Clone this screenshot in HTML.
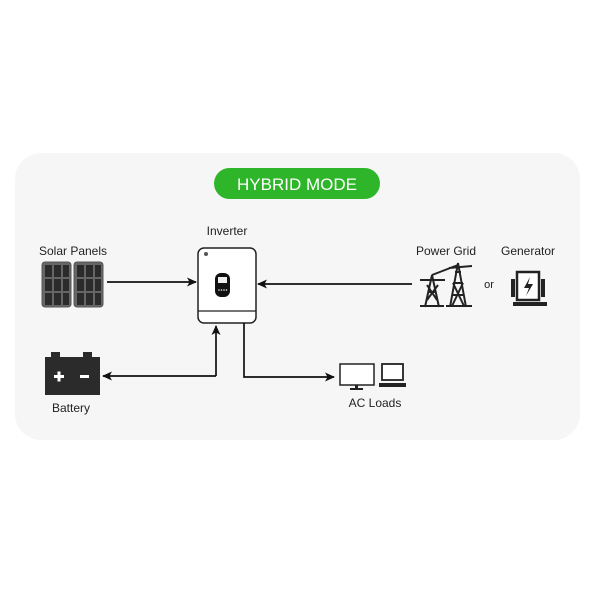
<!DOCTYPE html>
<html><head><style>
body{margin:0;width:600px;height:600px;background:#fff;overflow:hidden;font-family:"Liberation Sans",sans-serif}
</style></head><body>
<svg width="600" height="600" viewBox="0 0 600 600" xmlns="http://www.w3.org/2000/svg" font-family="Liberation Sans, sans-serif">
<defs><marker id="a" markerWidth="10" markerHeight="9" refX="9" refY="4.5" orient="auto" markerUnits="userSpaceOnUse"><path d="M0,0 L10,4.5 L0,9 L2.5,4.5 z" fill="#111"/></marker></defs>
<rect x="15" y="153" width="565" height="287" rx="26" fill="#f6f6f7"/>
<rect x="214" y="168" width="166" height="31" rx="15.5" fill="#2fb52a"/>
<text x="297" y="190" font-size="17" fill="#fff" text-anchor="middle">HYBRID MODE</text>
<g font-size="12" fill="#222" text-anchor="middle">
<text x="73" y="255">Solar Panels</text>
<text x="227" y="235">Inverter</text>
<text x="71" y="412">Battery</text>
<text x="375" y="407">AC Loads</text>
<text x="446" y="255">Power Grid</text>
<text x="528" y="255">Generator</text>
<text x="489" y="288" font-size="11">or</text>
</g>
<g stroke="#555" stroke-width="1">
<rect x="42" y="262" width="29" height="45" rx="3" fill="#666"/>
<rect x="74" y="262" width="29" height="45" rx="3" fill="#666"/>
</g>
<g fill="#2b2b2b">
<rect x="45" y="265" width="7" height="12"/><rect x="54" y="265" width="7" height="12"/><rect x="63" y="265" width="6" height="12"/>
<rect x="45" y="279" width="7" height="12"/><rect x="54" y="279" width="7" height="12"/><rect x="63" y="279" width="6" height="12"/>
<rect x="45" y="293" width="7" height="12"/><rect x="54" y="293" width="7" height="12"/><rect x="63" y="293" width="6" height="12"/>
<rect x="77" y="265" width="7" height="12"/><rect x="86" y="265" width="7" height="12"/><rect x="95" y="265" width="6" height="12"/>
<rect x="77" y="279" width="7" height="12"/><rect x="86" y="279" width="7" height="12"/><rect x="95" y="279" width="6" height="12"/>
<rect x="77" y="293" width="7" height="12"/><rect x="86" y="293" width="7" height="12"/><rect x="95" y="293" width="6" height="12"/>
</g>
<rect x="198" y="248" width="58" height="75" rx="6" fill="#fff" stroke="#222" stroke-width="1.5"/>
<line x1="198" y1="311" x2="256" y2="311" stroke="#222" stroke-width="1.2"/>
<circle cx="206" cy="254" r="2" fill="#555"/>
<rect x="215" y="273" width="15" height="24" rx="6" fill="#111"/>
<rect x="218" y="277" width="9" height="6" fill="#eee"/>
<g fill="#eee"><circle cx="219" cy="290" r="0.8"/><circle cx="221.5" cy="290" r="0.8"/><circle cx="224" cy="290" r="0.8"/><circle cx="226.5" cy="290" r="0.8"/></g>
<g stroke="#111" stroke-width="1.7" fill="none">
<line x1="107" y1="282" x2="196" y2="282" marker-end="url(#a)"/>
<line x1="412" y1="284" x2="258" y2="284" marker-end="url(#a)"/>
<polyline points="216,376 216,326" marker-end="url(#a)"/>
<polyline points="216,376 103,376" marker-end="url(#a)"/>
<polyline points="244,323 244,377 334,377" marker-end="url(#a)"/>
</g>
<rect x="51" y="352" width="9" height="5" fill="#2b2b2b"/><rect x="83" y="352" width="9" height="5" fill="#2b2b2b"/>
<rect x="45" y="357" width="55" height="38" fill="#2b2b2b"/>
<rect x="54" y="375" width="10" height="3" fill="#fff"/><rect x="57.5" y="371.5" width="3" height="10" fill="#fff"/>
<rect x="80" y="375" width="9" height="3" fill="#fff"/>
<rect x="340" y="364" width="34" height="21" fill="#fff" stroke="#222" stroke-width="1.5"/>
<rect x="355" y="385" width="3" height="4" fill="#222"/><rect x="350" y="388" width="13" height="2" fill="#222"/>
<rect x="382" y="364" width="21" height="16" fill="#fff" stroke="#222" stroke-width="1.8"/>
<rect x="379" y="383" width="27" height="4" fill="#222"/>
<g stroke="#222" stroke-width="2" fill="none">
<path d="M425 307 L432 275 L439 307 M428 292 L436 292 M427 300 L438 285 M427 285 L437 300"/>
<path d="M450 307 L458 263 L466 307 M452 295 L464 295 M453 283 L463 283 M452 306 L463 283 M453 283 L464 306 M455 272 L461 272"/>
<path d="M420 280 L445 280 M449 268 L472 266 M432 275 L458 265 M420 306 L444 306 M446 306 L472 306"/>
</g>
<g fill="#222">
<rect x="511" y="279" width="4" height="18"/><rect x="541" y="279" width="4" height="18"/>
<rect x="517" y="272" width="22" height="28" fill="#fff" stroke="#222" stroke-width="2.5"/>
<rect x="513" y="302" width="34" height="4"/>
<path d="M530 277 L524 288 L529 288 L526 296 L533 284 L528 284 z"/>
</g>
</svg>
</body></html>
